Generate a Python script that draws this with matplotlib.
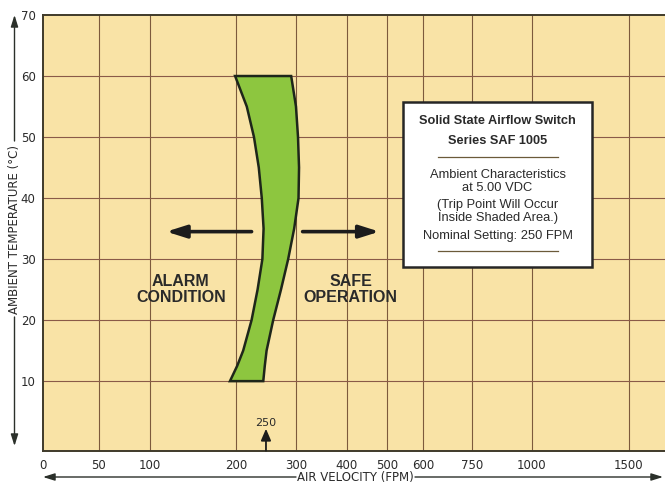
import numpy as np
import matplotlib
matplotlib.use("Agg")
import matplotlib.pyplot as plt
from matplotlib.patches import Rectangle

# axis layout of the printed chart (FPM value -> distance along the axis)
scale_fpm = [0, 50, 100, 200, 300, 400, 500, 600, 750, 1000, 1500, 2000]
scale_pos = [0, 56.5, 107.5, 193.5, 253.5, 304.5, 344.5, 380.5, 429.5, 489.5, 586.5, 684.5]

x_ticks = [0, 50, 100, 200, 300, 400, 500, 600, 750, 1000, 1500]
y_ticks = [10, 20, 30, 40, 50, 60, 70]

# trip band (shaded area)
band_temp = [60, 55, 50, 45, 40, 35, 30, 25, 20, 15, 12.5, 10]
band_left = [199, 218, 230, 238, 243, 246, 244, 236, 226, 212, 202, 193]
band_right = [292, 300, 304, 306, 305, 297, 287, 275, 262, 251, 248, 245.5]

nominal_fpm = 250
arrow_temp = 34.5
alarm_arrow = [226, 119]
safe_arrow = [313, 481]

box_title = ["Solid State Airflow Switch", "Series SAF 1005"]
box_lines = ["Ambient Characteristics", "at 5.00 VDC", "(Trip Point Will Occur",
             "Inside Shaded Area.)", "Nominal Setting: 250 FPM"]

NARROW = ["Liberation Sans Narrow", "DejaVu Sans"]
SANS = ["Liberation Sans", "DejaVu Sans"]
INK = "#2a2a2a"
GRID = "#7d5a3c"


def fwd(x):
    return np.interp(x, scale_fpm, scale_pos)


def inv(p):
    return np.interp(p, scale_pos, scale_fpm)


fig = plt.figure(figsize=(6.65, 4.82), dpi=100)
ax = fig.add_axes([42.5 / 665, (482 - 450.7) / 482, 622.5 / 665, 435.7 / 482])
ax.set_facecolor("#f9e3a6")
ax.set_xscale("function", functions=(fwd, inv))
ax.set_xlim(0, 1684)
ax.set_ylim(-1.4, 70)

ax.set_xticks(x_ticks)
ax.set_xticklabels([str(v) for v in x_ticks], family=NARROW, fontsize=8.5, color=INK)
ax.set_yticks(y_ticks)
ax.set_yticklabels([str(v) for v in y_ticks], family=NARROW, fontsize=8.5, color=INK)
ax.tick_params(length=0, pad=5)
ax.tick_params(axis="x", pad=6)
ax.minorticks_off()

for v in x_ticks[1:]:
    ax.axvline(v, color=GRID, lw=0.8, zorder=1)
for v in y_ticks[:-1]:
    ax.axhline(v, color="#8a5a48", lw=0.8, zorder=1)

for side in ["left", "bottom", "top"]:
    ax.spines[side].set_color("#3f3a2a")
    ax.spines[side].set_linewidth(1.4)
ax.spines["right"].set_visible(False)

# shaded trip band
xs = band_left + band_right[::-1]
ys = band_temp + band_temp[::-1]
ax.fill(xs, ys, facecolor="#8dc63f", edgecolor="#1e261a", lw=1.8, zorder=3)

# direction arrows
head = dict(arrowstyle="-|>,head_length=1.2,head_width=0.38", lw=2.6,
            color="#1c1c1c", shrinkA=0, shrinkB=0)
ax.annotate("", xy=(alarm_arrow[1], arrow_temp), xytext=(alarm_arrow[0], arrow_temp),
            arrowprops=head, zorder=4)
ax.annotate("", xy=(safe_arrow[1], arrow_temp), xytext=(safe_arrow[0], arrow_temp),
            arrowprops=head, zorder=4)
ax.text(136, 25.0, "ALARM\nCONDITION", ha="center", va="center", family=SANS,
        fontsize=11.5, fontweight="bold", color=INK, linespacing=1.12, zorder=4)
ax.text(409, 25.0, "SAFE\nOPERATION", ha="center", va="center", family=SANS,
        fontsize=11.5, fontweight="bold", color=INK, linespacing=1.12, zorder=4)

# nominal setting marker
ax.annotate("", xy=(nominal_fpm, 2.2), xytext=(nominal_fpm, -1.4),
            arrowprops=dict(arrowstyle="-|>,head_length=0.7,head_width=0.3", lw=1.3,
                            color="#1c1c1c", shrinkA=0, shrinkB=0),
            annotation_clip=False, zorder=4)
ax.text(nominal_fpm, 3.1, "250", ha="center", va="center", family=NARROW,
        fontsize=8, color=INK, zorder=4)

# info box
ax.add_patch(Rectangle((0.5796, 0.4223), 0.8827 - 0.5796, 0.7996 - 0.4223,
                       transform=ax.transAxes, facecolor="white", edgecolor="#262626",
                       lw=1.8, zorder=5))
bx = 0.7311
for txt, yy in zip(box_title, [0.7567, 0.7115]):
    ax.text(bx, yy, txt, transform=ax.transAxes, ha="center", va="center", family=SANS,
            fontsize=9.2, fontweight="bold", color=INK, zorder=6)
for txt, yy in zip(box_lines, [0.6328, 0.6036, 0.5639, 0.5341, 0.4935]):
    ax.text(bx, yy, txt, transform=ax.transAxes, ha="center", va="center", family=SANS,
            fontsize=9.3, color=INK, zorder=6)
for yy in [0.6748, 0.4583]:
    ax.plot([0.6354, 0.8281], [yy, yy], transform=ax.transAxes, color="#6b5a3a",
            lw=0.9, zorder=6)

# axis titles with arrows
fig.text(14.5 / 665, 1 - 229 / 482, "AMBIENT TEMPERATURE (\u00b0C)", rotation=90,
         ha="center", va="center", family=NARROW, fontsize=8.5, color=INK)
fig.text(355.5 / 665, 1 - 477 / 482, "AIR VELOCITY (FPM)", ha="center", va="center",
         family=NARROW, fontsize=8.5, color=INK)

thin = dict(arrowstyle="-|>,head_length=0.7,head_width=0.22", lw=1.0, color="#2b302a",
            shrinkA=0, shrinkB=0)
for (x0, y0), (x1, y1) in [((14.5, 141), (14.5, 15)), ((14.5, 317), (14.5, 446)),
                           ((296, 477), (43, 477)), ((415, 477), (663, 477))]:
    ax.annotate("", xy=(x1 / 665, 1 - y1 / 482), xytext=(x0 / 665, 1 - y0 / 482),
                xycoords="figure fraction", textcoords="figure fraction",
                arrowprops=thin, annotation_clip=False)

fig.savefig("out.png", dpi=100, facecolor="white")
